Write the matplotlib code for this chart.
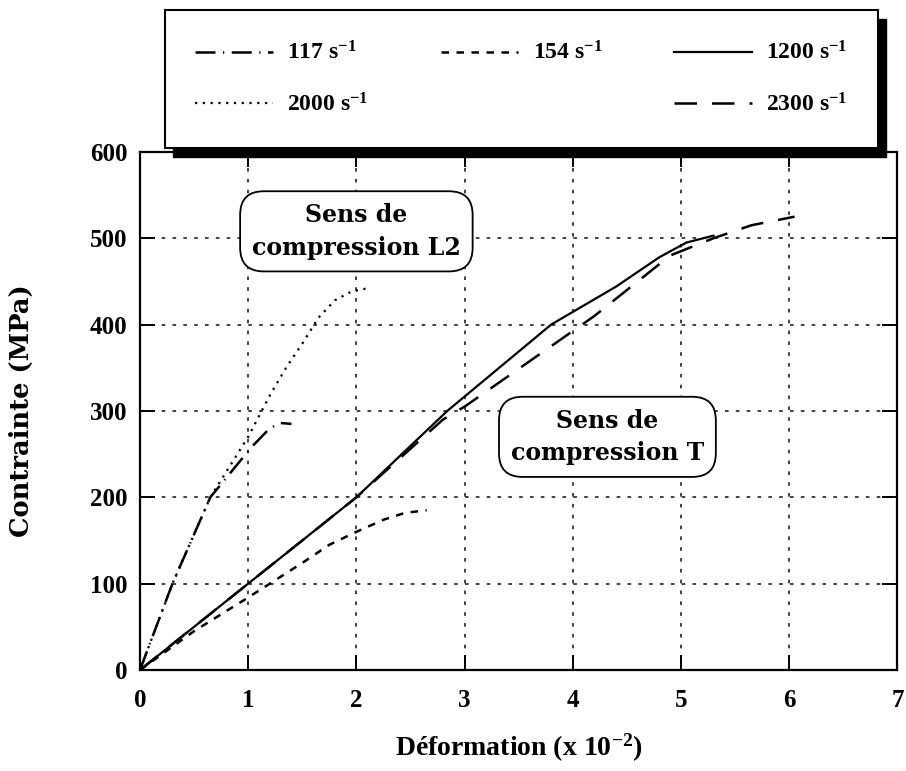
import matplotlib
matplotlib.use('Agg')
import matplotlib.pyplot as plt
from matplotlib.patches import Rectangle

# --- data (strain in 1e-2, stress in MPa) ---
# direction T
x_154 = [0, 0.5, 1.0, 1.2, 1.5, 1.75, 2.0, 2.25, 2.45, 2.65]
y_154 = [0, 45, 84, 100, 124, 145, 160, 174, 182, 185]

x_1200 = [0, 1.0, 2.0, 2.84, 3.8, 4.4, 4.8, 5.05, 5.3]
y_1200 = [0, 100, 200, 300, 400, 444, 478, 495, 503]

x_2300 = [0, 1.0, 2.0, 2.8, 3.0, 3.4, 3.8, 4.2, 4.55, 4.9, 5.3, 5.65, 6.05]
y_2300 = [0, 100, 200, 290, 305, 340, 375, 410, 445, 480, 500, 515, 525]

# direction L2
x_117 = [0, 0.3, 0.65, 1.03, 1.2, 1.3, 1.4]
y_117 = [0, 100, 200, 258, 280, 286, 285]

x_2000 = [0, 0.3, 0.65, 1.0, 1.2, 1.35, 1.5, 1.65, 1.8, 1.95, 2.1]
y_2000 = [0, 100, 200, 270, 318, 350, 378, 408, 428, 438, 442]

x_ticks = [0, 1, 2, 3, 4, 5, 6, 7]
y_ticks = [0, 100, 200, 300, 400, 500, 600]

SERIF = 'Liberation Serif'
WIDE = 'DejaVu Serif'


def main():
    plot_init()
    plot_curves()
    plot_boxes()
    plot_legend()
    fig.savefig('out.png', dpi=100)


def plot_init():
    """figure, axes, ticks, grid"""
    global fig, ax
    plt.rcParams['mathtext.fontset'] = 'custom'
    plt.rcParams['mathtext.rm'] = SERIF + ':bold'
    plt.rcParams['mathtext.bf'] = SERIF + ':bold'
    plt.rcParams['mathtext.default'] = 'rm'
    fig = plt.figure(figsize=(9.06, 7.71), dpi=100)
    ax = fig.add_axes([0.1545, 0.131, 0.836, 0.672])
    ax.set_xlim(0, 7)
    ax.set_ylim(0, 600)
    ax.set_xticks(x_ticks)
    ax.set_yticks(y_ticks)
    for s in ax.spines.values():
        s.set_linewidth(1.6)
    ax.tick_params(direction='in', length=11, width=1.4, top=True, right=True,
                   labelsize=18, pad=9)
    ax.tick_params(axis='x', pad=14)
    for lab in ax.get_xticklabels() + ax.get_yticklabels():
        lab.set_family(SERIF)
        lab.set_weight('bold')
    ax.grid(True, color='#333333', linestyle=(0, (2, 4)), linewidth=1.3)
    ax.set_xlabel('Déformation (x 10$^{-2}$)', family=SERIF, weight='bold',
                  fontsize=20, labelpad=14)
    ax.set_ylabel('Contrainte (MPa)', family=WIDE, weight='bold',
                  fontsize=18.5, labelpad=40)


def plot_curves():
    global lines
    kw = dict(color='black')
    l117, = ax.plot(x_117, y_117, lw=1.8, ls=(0, (8, 3, 0.5, 3)), label='117 s$^{-1}$', **kw)
    l154, = ax.plot(x_154, y_154, lw=1.8, ls=(0, (3, 3)), label='154 s$^{-1}$', **kw)
    l1200, = ax.plot(x_1200, y_1200, lw=1.6, ls='-', label='1200 s$^{-1}$', **kw)
    l2000, = ax.plot(x_2000, y_2000, lw=1.6, ls=(0, (1, 2.5)), label='2000 s$^{-1}$', **kw)
    l2300, = ax.plot(x_2300, y_2300, lw=1.8, ls=(0, (9, 6)), label='2300 s$^{-1}$', **kw)
    lines = [l117, l154, l1200, l2000, l2300]


def plot_boxes():
    box = dict(boxstyle='round,pad=0.5,rounding_size=1.0', fc='white',
               ec='black', lw=1.3)
    ax.text(2.0, 508, 'Sens de\ncompression L2', ha='center', va='center',
            family=WIDE, weight='bold', fontsize=17, linespacing=1.45,
            bbox=box, zorder=5)
    ax.text(4.32, 270, 'Sens de\ncompression T', ha='center', va='center',
            family=WIDE, weight='bold', fontsize=17, linespacing=1.45,
            bbox=box, zorder=5)


def plot_legend():
    """legend in a framed box with a heavy black shadow"""
    x0, y0, w, h = 0.182, 0.808, 0.787, 0.179
    fig.add_artist(Rectangle((x0 + 0.009, y0 - 0.011), w, h,
                             transform=fig.transFigure, fc='black', ec='black'))
    fig.add_artist(Rectangle((x0, y0), w, h, transform=fig.transFigure,
                             fc='white', ec='black', lw=1.5))
    l117, l154, l1200, l2000, l2300 = lines
    blank = plt.Line2D([], [], color='none', label=' ')
    handles = [l117, l2000, l154, blank, l1200, l2300]
    leg = fig.legend(handles=handles, labels=[h.get_label() for h in handles],
                     ncol=3, loc='center', bbox_to_anchor=(x0 + 0.01, y0, w - 0.02, h),
                     mode='expand', frameon=False, handlelength=3.3,
                     handletextpad=0.6, labelspacing=1.2,
                     prop=dict(family=SERIF, weight='bold', size=17))
    return leg


if __name__ == '__main__':
    main()
